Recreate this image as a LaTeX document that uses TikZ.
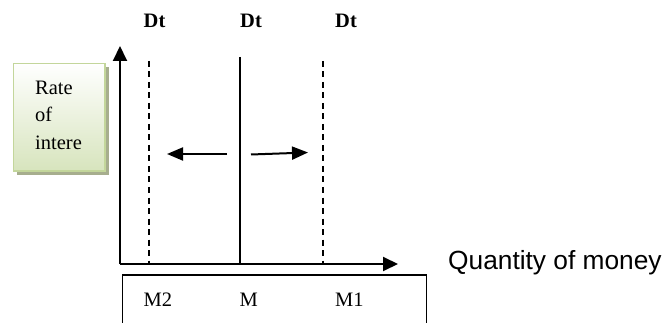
\documentclass[tikz,border=0pt]{standalone}
\usepackage{fontspec}
\setmainfont{Liberation Serif}
\newfontfamily\arialfont{Liberation Sans}
\usetikzlibrary{arrows.meta,shadows}
\definecolor{boxgreen}{HTML}{D7E4BD}
\definecolor{boxborder}{HTML}{C3D69B}
\definecolor{boxshadow}{HTML}{A7AE8E}
\begin{document}
\begin{tikzpicture}[x=1pt,y=-1pt,
  lbl/.style={inner sep=0pt,anchor=base west,font=\fontsize{20.5}{24}\selectfont},
  dtlbl/.style={lbl,font=\fontsize{20.5}{24}\selectfont\bfseries},
  axisarrow/.style={line width=2pt,-{Triangle[length=15pt,width=14pt]}},
  shiftarrow/.style={line width=2pt,-{Triangle[length=16pt,width=13pt]}},
  dashline/.style={line width=1.6pt,dash pattern=on 6pt off 4.5pt},
  solidline/.style={line width=1.3pt}]
\useasboundingbox (0,0) rectangle (666,323);
% green label box with shadow
\fill[boxshadow] (17,67.5) rectangle (109,175);
\shade[top color=white,bottom color=boxgreen] (13.5,63.5) rectangle (105,171);
\draw[boxborder,line width=1.6pt] (13.5,63.5) rectangle (105,171);
\node[lbl] (r1) at (35,95) {Rate};
\node[lbl] (r2) at (35,122) {of};
\node[lbl] (r3) at (35,150) {intere};
% axes
\coordinate (o) at (120,264);
\coordinate (ytip) at (120,46);
\coordinate (xtip) at (398,264);
\draw[axisarrow] (o) -- (ytip);
\draw[axisarrow] (o) -- (xtip);
% curves
\coordinate (d2t) at (149,61);
\coordinate (d2b) at (149,264);
\coordinate (dmt) at (240,57);
\coordinate (dmb) at (240,264);
\coordinate (d1t) at (323,61);
\coordinate (d1b) at (323,264);
\draw[dashline] (d2t) -- (d2b);
\draw[solidline] (dmt) -- (dmb);
\draw[dashline] (d1t) -- (d1b);
% shift arrows
\coordinate (la) at (227,154);
\coordinate (lb) at (167,154);
\coordinate (ra) at (251,154.5);
\coordinate (rb) at (308,152.5);
\draw[shiftarrow] (la) -- (lb);
\draw[shiftarrow] (ra) -- (rb);
% Dt labels
\node[dtlbl] (dt1) at (143.5,28) {Dt};
\node[dtlbl] (dt2) at (240,28) {Dt};
\node[dtlbl] (dt3) at (335,28) {Dt};
% bottom box
\draw[line width=1.3pt] (122.7,335) -- (122.7,275) -- (426.7,275) -- (426.7,335);
\node[lbl] (m2) at (143.5,306.5) {M2};
\node[lbl] (m) at (239.5,306.5) {M};
\node[lbl] (m1) at (335,306.5) {M1};
% axis label
\node[inner sep=0pt,anchor=base west,font=\arialfont\fontsize{26.3}{30}\selectfont] (q) at (448,269.5) {Quantity of money};
\end{tikzpicture}
\end{document}
